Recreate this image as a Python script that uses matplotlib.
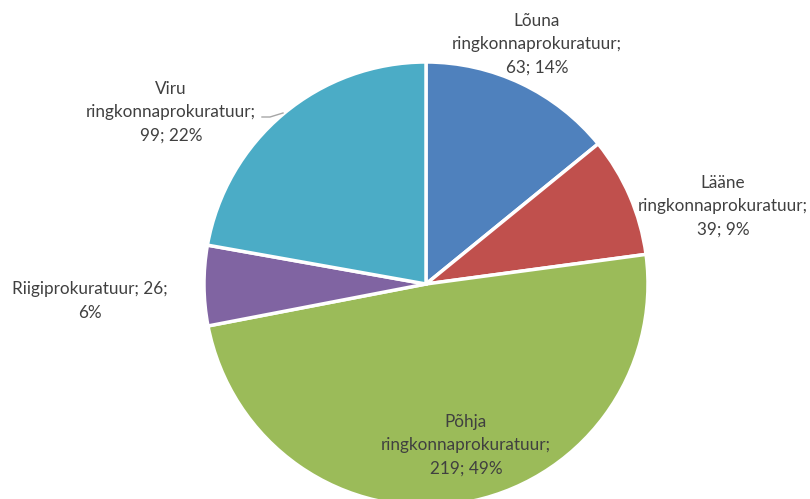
import matplotlib.pyplot as plt

# andmed
nimed = ["Lõuna ringkonnaprokuratuur", "Lääne ringkonnaprokuratuur",
         "Põhja ringkonnaprokuratuur", "Riigiprokuratuur", "Viru ringkonnaprokuratuur"]
vaartused = [63, 39, 219, 26, 99]
protsendid = ["14%", "9%", "49%", "6%", "22%"]
varvid = ["#4F81BD", "#C0504D", "#9BBB59", "#8064A2", "#4BACC6"]

# sildid pikslites (x, y ülevalt)
sildi_kohad = [(537, 44), (723, 206), (466, 445), (90, 301), (171, 112)]
sildi_tekst = ["Lõuna\nringkonnaprokuratuur;\n63; 14%",
               "Lääne\nringkonnaprokuratuur;\n39; 9%",
               "Põhja\nringkonnaprokuratuur;\n219; 49%",
               "Riigiprokuratuur; 26;\n6%",
               "Viru\nringkonnaprokuratuur;\n99; 22%"]

plt.rcParams['font.family'] = ['Lato', 'DejaVu Sans']

fig = plt.figure(figsize=(8.1, 4.99), dpi=100)
ax = fig.add_axes([0, 0, 1, 1])

ax.pie(vaartused, colors=varvid, startangle=90, counterclock=False,
       center=(426, 499 - 284), radius=222, frame=True,
       wedgeprops=dict(edgecolor='white', linewidth=2.5))
ax.set_xlim(0, 810)
ax.set_ylim(0, 499)
ax.set_aspect('equal')
ax.axis('off')

for (x, y), t in zip(sildi_kohad, sildi_tekst):
    ax.text(x, 499 - y, t, ha='center', va='center', fontsize=12.3,
            color='#404040', linespacing=1.55)

# Viru juhtjoon
ax.plot([262, 270, 283], [499 - 117, 499 - 117, 499 - 113], color='#a6a6a6', lw=1)

fig.savefig("out.png", dpi=100)
